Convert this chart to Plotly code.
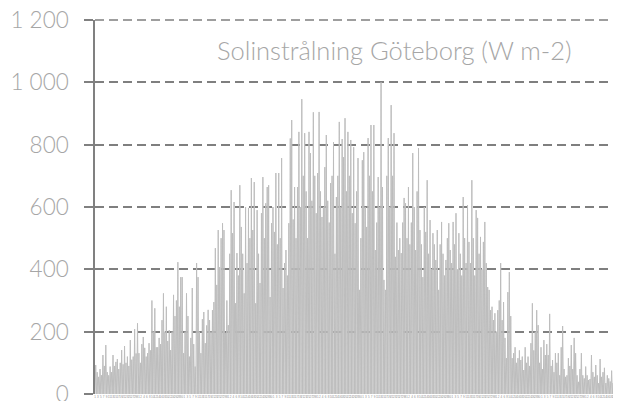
import plotly.graph_objects as go

# Daily peak global radiation (W m-2), one value per day
jan_feb = [93, 70, 55, 80, 60, 125, 90, 157, 70, 60, 88, 70, 125, 90, 103, 112, 80, 100, 141, 95,
           154, 100, 120, 90, 173, 110, 120, 208, 130, 227, 131, 100, 160, 183, 148, 120, 131, 163, 140, 300,
           200, 275, 150, 150, 180, 160, 237, 323, 200, 280, 170, 205, 141, 200, 318, 250, 300, 423, 280, 375]
mar_apr = [375, 131, 200, 323, 250, 120, 180, 340, 160, 88, 420, 375, 200, 131, 240, 263, 163, 220, 270, 237,
           200, 269, 295, 468, 350, 526, 407, 500, 548, 526, 196, 300, 221, 450, 654, 516, 616, 291, 452, 380,
           670, 536, 450, 323, 600, 420, 597, 500, 693, 526, 680, 291, 590, 450, 356, 580, 696, 500, 612, 664]
may_jun = [670, 311, 548, 600, 520, 709, 480, 709, 500, 757, 340, 420, 462, 380, 548, 820, 879, 560, 664, 500,
           664, 841, 600, 946, 700, 837, 650, 500, 841, 773, 620, 904, 700, 580, 709, 905, 650, 568, 600, 728,
           831, 620, 550, 677, 700, 808, 450, 632, 700, 873, 600, 818, 760, 885, 650, 841, 700, 815, 580, 792]
jul_aug = [548, 650, 757, 334, 500, 750, 776, 600, 536, 821, 700, 863, 650, 863, 462, 550, 696, 600, 1000, 664,
           366, 334, 700, 821, 600, 927, 700, 837, 440, 550, 462, 500, 452, 550, 629, 612, 500, 664, 480, 550,
           773, 600, 462, 650, 789, 526, 480, 375, 600, 520, 686, 450, 558, 400, 516, 480, 430, 526, 334, 480]
sep_okt = [552, 450, 380, 430, 500, 548, 462, 420, 552, 480, 580, 400, 516, 450, 380, 632, 500, 420, 606, 488,
           420, 686, 500, 380, 590, 565, 450, 504, 400, 488, 552, 420, 343, 334, 269, 280, 237, 259, 200, 269,
           300, 420, 237, 295, 180, 115, 327, 391, 250, 115, 131, 150, 100, 115, 140, 109, 120, 77, 150, 100]
nov_dec = [120, 90, 163, 291, 140, 200, 269, 221, 100, 150, 80, 173, 125, 160, 125, 257, 90, 109, 70, 131,
           100, 131, 60, 150, 218, 80, 55, 60, 115, 90, 157, 80, 180, 131, 60, 39, 80, 131, 60, 50,
           88, 60, 45, 48, 125, 70, 55, 93, 60, 35, 112, 55, 70, 84, 35, 60, 50, 40, 75, 35, 50, 45, 35, 40, 60]
night_value = 0  # radiation during the night

y_tickvals = [0, 200, 400, 600, 800, 1000, 1200]
y_ticktext = ["0", "200", "400", "600", "800", "1 000", "1 200"]
title_text = "Solinstrålning Göteborg (W m-2)"

daily_peaks = jan_feb + mar_apr + may_jun + jul_aug + sep_okt + nov_dec
n_days = len(daily_peaks)

# day series: night (0) then midday peak, for each day
xs, ys = [], []
for d, p in enumerate(daily_peaks):
    xs += [d, d + 0.5]
    ys += [night_value, p]
xs.append(n_days)
ys.append(night_value)

x_tickvals = list(range(0, n_days, 2))
x_ticktext = [str(d % 31 + 1) for d in x_tickvals]

grid_color = "#7f7f7f"
grid_dash = "9px,5px"

fig = go.Figure()
fig.add_trace(go.Scatter(x=xs, y=ys, mode="lines",
                         line=dict(color="#bdbdbd", width=1),
                         hoverinfo="skip", showlegend=False))

fig.add_annotation(text=title_text, xref="paper", yref="paper",
                   x=0.57, y=0.92, xanchor="center", yanchor="middle",
                   showarrow=False,
                   font=dict(family="Lato", size=25.5, weight=300, color="#a6a6a6"))

# top gridline (plotly skips the grid line on the plot edge)
fig.add_shape(type="line", xref="paper", yref="paper", x0=0, x1=1, y0=1, y1=1,
              line=dict(color=grid_color, width=1.5, dash=grid_dash), layer="below")

# page body has an 8px default margin: size the figure to fit the window
fig.update_layout(
    width=613, height=393,
    margin=dict(l=87, r=0, t=12, b=7),
    paper_bgcolor="white", plot_bgcolor="white",
    showlegend=False,
)
fig.update_yaxes(
    range=[0, 1200], tickvals=y_tickvals, ticktext=y_ticktext,
    showline=True, linecolor="#808080", linewidth=1.5,
    ticks="outside", ticklen=9, tickwidth=1.5, tickcolor="#808080",
    showgrid=True, gridcolor=grid_color, gridwidth=1.5, griddash=grid_dash,
    zeroline=False, automargin=False,
    tickfont=dict(family="Lato", size=22.5, weight=300, color="#a6a6a6"),
    ticklabelstandoff=11, ticklabeloverflow="allow",
)
fig.update_xaxes(
    range=[0, n_days], tickvals=x_tickvals, ticktext=x_ticktext,
    tickangle=0, automargin=False,
    showline=False, showgrid=False, zeroline=False, ticks="",
    tickfont=dict(family="Liberation Sans", size=3, color="#909090"),
    ticklabeloverflow="allow",
)

fig.write_html("out.html")
